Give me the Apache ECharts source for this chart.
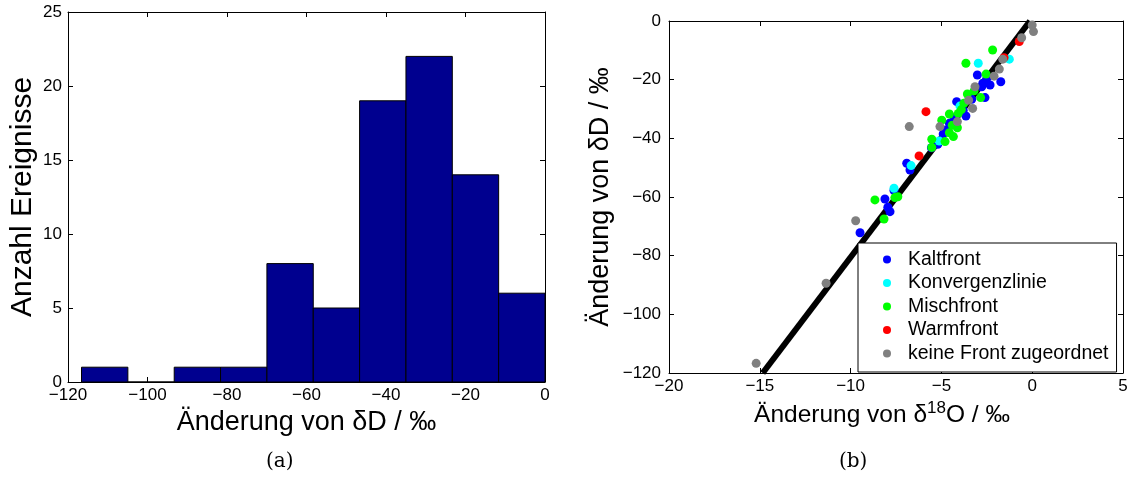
<!DOCTYPE html>
<html><head><meta charset="utf-8">
<script src="https://cdn.jsdelivr.net/npm/echarts@6/dist/echarts.min.js"></script>
<style>html,body{margin:0;padding:0;background:#fff}#c{width:1138px;height:483px}</style>
</head><body><div id="c"></div>
<script>
// Histogram (a)
const binEdges = [-116.6, -104.94, -93.28, -81.62, -69.96, -58.3, -46.64, -34.98, -23.32, -11.66, 0];
const binCounts = [1, 0, 1, 1, 8, 5, 19, 22, 14, 6];
const histXTicks = [-120, -100, -80, -60, -40, -20, 0];
const histYTicks = [0, 5, 10, 15, 20, 25];

// Scatter (b): [delta18O change, deltaD change]
const kaltfront = [[-9.48,-72.2],[-7.83,-65.0],[-7.95,-63.5],[-8.11,-60.7],[-7.61,-57.8],[-6.91,-48.5],[-6.73,-50.8],[-5.55,-43.2],[-5.2,-42.0],[-4.75,-37.2],[-4.9,-38.5],[-4.56,-34.9],[-4.3,-33.0],[-3.65,-32.4],[-3.8,-30.5],[-4.16,-27.5],[-3.33,-26.7],[-2.6,-26.1],[-2.78,-22.4],[-2.72,-21.2],[-2.32,-21.8],[-3.02,-18.4],[-1.73,-20.7],[-2.5,-19.6]];
const konvergenzlinie = [[-7.61,-57.0],[-6.67,-49.3],[-5.12,-40.9],[-3.98,-29.0],[-2.97,-14.4],[-1.26,-13.0]];
const mischfront = [[-8.66,-61.0],[-8.16,-67.5],[-7.56,-60.2],[-7.4,-59.9],[-5.53,-43.1],[-4.8,-41.1],[-5.53,-40.3],[-4.34,-39.4],[-4.56,-38.1],[-4.12,-36.4],[-4.4,-35.5],[-4.98,-33.8],[-4.56,-31.7],[-4.07,-31.5],[-3.9,-30.2],[-3.76,-28.0],[-3.57,-24.9],[-3.2,-23.8],[-2.84,-26.1],[-2.54,-18.1],[-3.65,-14.4],[-2.18,-9.9]];
const warmfront = [[-0.71,-7.0],[-1.55,-12.5],[-5.85,-30.9],[-6.23,-46.0]];
const keineFront = [[0.0,-1.4],[0.07,-3.6],[-0.58,-5.7],[-1.62,-13.0],[-1.81,-16.4],[-2.1,-18.8],[-3.15,-22.4],[-3.5,-27.0],[-3.28,-29.8],[-4.12,-34.3],[-5.08,-36.0],[-6.77,-36.0],[-9.72,-68.1],[-11.35,-89.4],[-15.2,-116.7]];
const fitLineX = [-14.84, -0.12];
const fitLineY = [-120, 0];
const seriesNames = ['Kaltfront','Konvergenzlinie','Mischfront','Warmfront','keine Front zugeordnet'];
const seriesColors = ['#0000ff','#00ffff','#00ff00','#ff0000','#808080'];

const FONT = 'Liberation Sans, Arial, sans-serif';
const minus = v => String(v).replace('-', '\u2212');
const tickFont = {fontFamily: FONT, fontSize: 17, color: '#000'};

function boxAxes(gridIndex, xmin, xmax, xint, ymin, ymax, yint, xname, yname, xNameStyle, yNameStyle, xGap, yGap, yLabMargin) {
  const axLine = {show: true, onZero: false, lineStyle: {color: '#000', width: 1}};
  const tick = {show: true, inside: true, length: 5, lineStyle: {color: '#000'}};
  return {
    x: [
      {type: 'value', gridIndex, min: xmin, max: xmax, interval: xint, position: 'bottom',
       axisLine: axLine, axisTick: tick, splitLine: {show: false},
       axisLabel: Object.assign({margin: 5, formatter: minus, showMinLabel: true, showMaxLabel: true}, tickFont),
       name: xname, nameLocation: 'middle', nameGap: xGap, nameTextStyle: xNameStyle},
      {type: 'value', gridIndex, min: xmin, max: xmax, interval: xint, position: 'top',
       axisLine: axLine, axisTick: tick, splitLine: {show: false}, axisLabel: {show: false}}
    ],
    y: [
      {type: 'value', gridIndex, min: ymin, max: ymax, interval: yint, position: 'left',
       axisLine: axLine, axisTick: tick, splitLine: {show: false},
       axisLabel: Object.assign({margin: yLabMargin, formatter: minus, showMinLabel: true, showMaxLabel: true}, tickFont),
       name: yname, nameLocation: 'middle', nameGap: yGap, nameRotate: 90, nameTextStyle: yNameStyle},
      {type: 'value', gridIndex, min: ymin, max: ymax, interval: yint, position: 'right',
       axisLine: axLine, axisTick: tick, splitLine: {show: false}, axisLabel: {show: false}}
    ]
  };
}

const a = boxAxes(0, histXTicks[0], histXTicks[histXTicks.length-1], 20, histYTicks[0], histYTicks[histYTicks.length-1], 5,
  'Änderung von δD / ‰', 'Anzahl Ereignisse',
  {fontFamily: FONT, fontSize: 27, color: '#000'}, {fontFamily: FONT, fontSize: 30, color: '#000'}, 26, 30, 6);
const b = boxAxes(1, -20, 5, 5, -120, 0, 20,
  '{t|Änderung von δ}{s|18}{t|O / ‰}', 'Änderung von δD / ‰',
  {fontFamily: FONT, fontSize: 24.5, color: '#000', padding: [0, 28, 0, 0],
   rich: {t: {fontFamily: FONT, fontSize: 24.5, color: '#000', verticalAlign: 'bottom'},
          s: {fontFamily: FONT, fontSize: 17, color: '#000', verticalAlign: 'bottom', padding: [0, 0, 11, 0]}}},
  {fontFamily: FONT, fontSize: 27, color: '#000'}, 27, 55, 8);

const scatterData = [kaltfront, konvergenzlinie, mischfront, warmfront, keineFront];

const option = {
  animation: false,
  backgroundColor: '#fff',
  grid: [
    {left: 68, right: 1138 - 545, top: 12, bottom: 483 - 382, containLabel: false},
    {left: 669, right: 1138 - 1123, top: 21, bottom: 483 - 373, containLabel: false}
  ],
  xAxis: a.x.concat(b.x),
  yAxis: a.y.concat(b.y),
  legend: {
    data: seriesNames, orient: 'vertical', left: 858, top: 243,
    backgroundColor: '#fff', borderColor: '#000', borderWidth: 1, borderRadius: 0,
    padding: [6, 8, 8, 25], itemGap: 2.5, itemWidth: 32, itemHeight: 8, icon: 'circle',
    textStyle: {fontFamily: FONT, fontSize: 19.5, color: '#000', lineHeight: 21}
  },
  graphic: [
    {type: 'text', left: 266, top: 452, style: {text: '(a)', font: '20px "DejaVu Serif", "Liberation Serif", serif', fill: '#000'}},
    {type: 'text', left: 839, top: 452, style: {text: '(b)', font: '20px "DejaVu Serif", "Liberation Serif", serif', fill: '#000'}}
  ],
  series: [
    {
      type: 'custom', xAxisIndex: 0, yAxisIndex: 0, silent: true,
      data: binCounts.map((c, i) => [binEdges[i], binEdges[i+1], c]),
      renderItem: function (params, api) {
        const p0 = api.coord([api.value(0), 0]);
        const p1 = api.coord([api.value(1), api.value(2)]);
        return {type: 'rect', shape: {x: p0[0], y: p1[1], width: p1[0] - p0[0], height: p0[1] - p1[1]},
                style: {fill: '#00008f', stroke: '#000', lineWidth: 1}};
      }
    },
    {
      type: 'line', xAxisIndex: 2, yAxisIndex: 2, silent: true, symbol: 'none',
      data: fitLineX.map((x, i) => [x, fitLineY[i]]),
      lineStyle: {color: '#000', width: 6}, z: 1
    }
  ].concat(scatterData.map((d, i) => ({
    type: 'scatter', name: seriesNames[i], xAxisIndex: 2, yAxisIndex: 2,
    data: d, symbol: 'circle', symbolSize: 9, itemStyle: {color: seriesColors[i], opacity: 1}, z: 2 + i
  })))
};
const chart = echarts.init(document.getElementById('c'), null, {renderer: 'canvas'});
chart.setOption(option);
</script></body></html>
